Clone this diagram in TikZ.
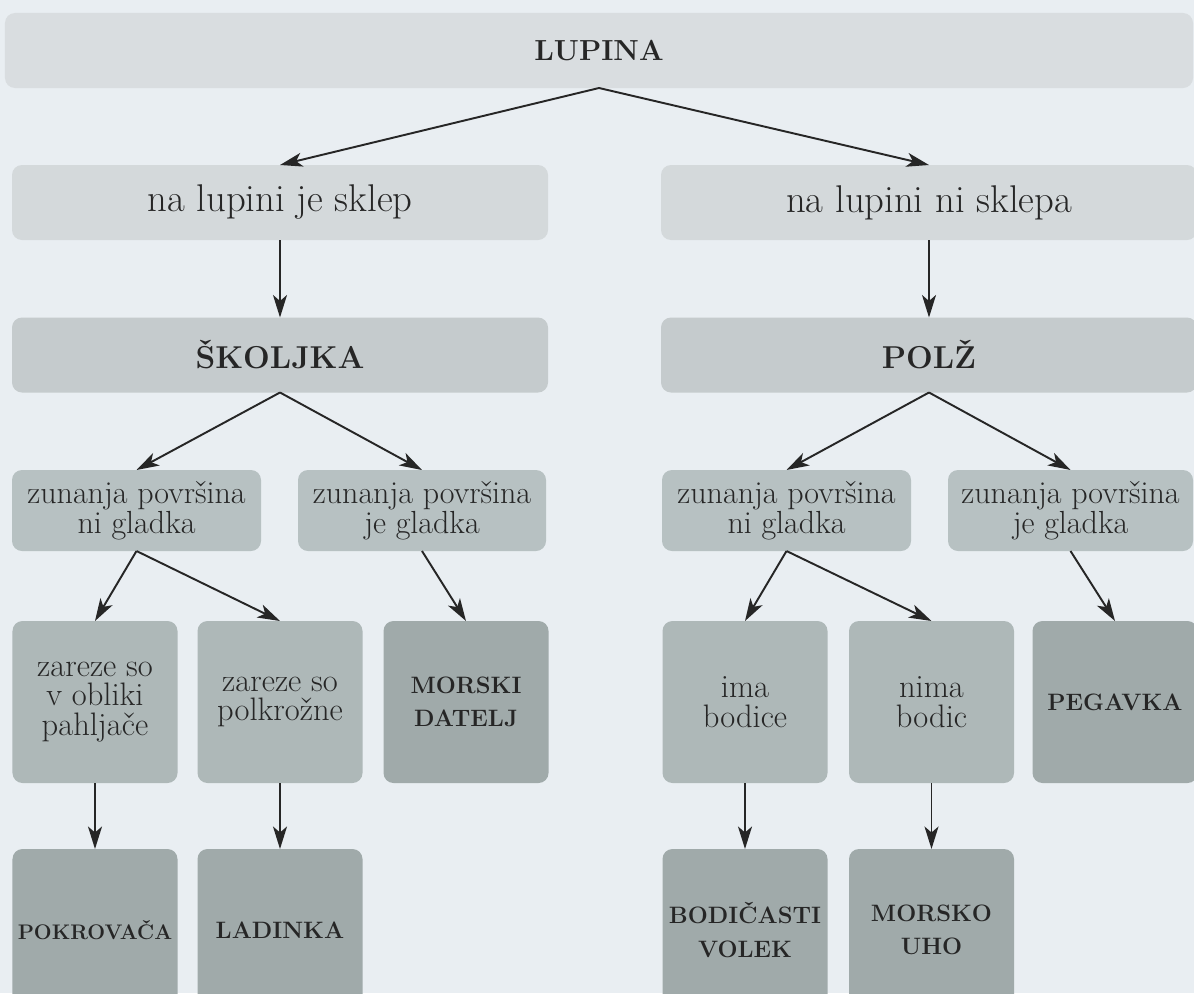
\documentclass[tikz,border=0pt]{standalone}
\usepackage{fontspec}
\usetikzlibrary{arrows.meta}
\definecolor{bgcol}{HTML}{E9EEF2}
\definecolor{lupcol}{HTML}{D9DDE0}
\definecolor{twocol}{HTML}{D4D9DB}
\definecolor{threecol}{HTML}{C5CBCD}
\definecolor{fourcol}{HTML}{B7C1C2}
\definecolor{fivecol}{HTML}{AEB8B8}
\definecolor{darkcol}{HTML}{A0AAAA}
\definecolor{inkcol}{HTML}{262626}

\begin{document}
\begin{tikzpicture}[
    box/.style={rounded corners=0.2cm, inner sep=0, outer sep=0, align=center, text=inkcol},
    lvlone/.style={box, fill=lupcol, minimum width=23.76cm, minimum height=1.5cm, font=\fontsize{16.5}{20}\selectfont\bfseries},
    lvltwo/.style={box, fill=twocol, minimum width=10.72cm, minimum height=1.5cm, font=\fontsize{22}{26}\selectfont},
    lvlthree/.style={box, fill=threecol, minimum width=10.72cm, minimum height=1.5cm, font=\fontsize{18}{22}\selectfont\bfseries},
    lvlfour/.style={box, fill=fourcol, minimum height=1.62cm, font=\fontsize{18.2}{17}\selectfont},
    lvlfive/.style={box, fill=fivecol, minimum width=3.3cm, minimum height=3.24cm, font=\fontsize{18.5}{16.8}\selectfont},
    animal/.style={box, fill=darkcol, minimum width=3.3cm, minimum height=3.24cm, font=\fontsize{13.5}{19}\selectfont\bfseries},
    arr/.style={-{Stealth[length=0.45cm,width=0.28cm,inset=0.12cm]}, line width=1.1pt, draw=inkcol}
  ]
  %%%%% START %%%%%
  \useasboundingbox (0,0) rectangle (23.88,-19.86);
  \clip (0,0) rectangle (23.88,-19.86);
  \fill[bgcol] (0,0) rectangle (23.88,-19.86);

  \node[lvlone] (lupina) at (11.98,-1.01) {LUPINA};

  \node[lvltwo] (sklep) at (5.6,-4.05) {na lupini je sklep};
  \node[lvltwo] (nisklepa) at (18.58,-4.05) {na lupini ni sklepa};

  \node[lvlthree] (skoljka) at (5.6,-7.1) {ŠKOLJKA};
  \node[lvlthree] (polz) at (18.58,-7.1) {POLŽ};

  \node[lvlfour, minimum width=4.98cm] (skni) at (2.73,-10.21) {zunanja površina\\ni gladka};
  \node[lvlfour, minimum width=4.96cm] (skje) at (8.44,-10.21) {zunanja površina\\je gladka};
  \node[lvlfour, minimum width=4.98cm] (pni) at (15.73,-10.21) {zunanja površina\\ni gladka};
  \node[lvlfour, minimum width=4.9cm] (pje) at (21.41,-10.21) {zunanja površina\\je gladka};

  \node[lvlfive] (pahljaca) at (1.9,-14.04) {zareze so\\v obliki\\pahljače};
  \node[lvlfive] (polkrog) at (5.6,-14.04) {zareze so\\polkrožne};
  \node[animal] (datelj) at (9.32,-14.04) {MORSKI\\DATELJ};
  \node[lvlfive] (bodice) at (14.9,-14.04) {ima\\bodice};
  \node[lvlfive] (nobodic) at (18.63,-14.04) {nima\\bodic};
  \node[animal] (pegavka) at (22.3,-14.04) {PEGAVKA};

  \node[animal, font=\fontsize{12}{19}\selectfont\bfseries] (pokrovaca) at (1.9,-18.6) {POKROVAČA};
  \node[animal] (ladinka) at (5.6,-18.6) {LADINKA};
  \node[animal] (volek) at (14.9,-18.6) {BODIČASTI\\VOLEK};
  \node[animal] (uho) at (18.63,-18.6) {MORSKO\\UHO};

  \draw[arr] (lupina.south) -- (sklep.north);
  \draw[arr] (lupina.south) -- (nisklepa.north);
  \draw[arr] (sklep) -- (skoljka);
  \draw[arr] (nisklepa) -- (polz);

  \draw[arr] (skoljka.south) -- (skni.north);
  \draw[arr] (skoljka.south) -- (skje.north);
  \draw[arr] (polz.south) -- (pni.north);
  \draw[arr] (polz.south) -- (pje.north);

  \draw[arr] (skni.south) -- (pahljaca.north);
  \draw[arr] (skni.south) -- (polkrog.north);
  \draw[arr] (skje.south) -- (datelj.north);
  \draw[arr] (pni.south) -- (bodice.north);
  \draw[arr] (pni.south) -- (nobodic.north);
  \draw[arr] (pje.south) -- (pegavka.north);

  \draw[arr] (pahljaca) -- (pokrovaca);
  \draw[arr] (polkrog) -- (ladinka);
  \draw[arr] (bodice) -- (volek);
  \draw[arr] (nobodic) -- (uho);
  %%%%% END %%%%%
\end{tikzpicture}
\end{document}
